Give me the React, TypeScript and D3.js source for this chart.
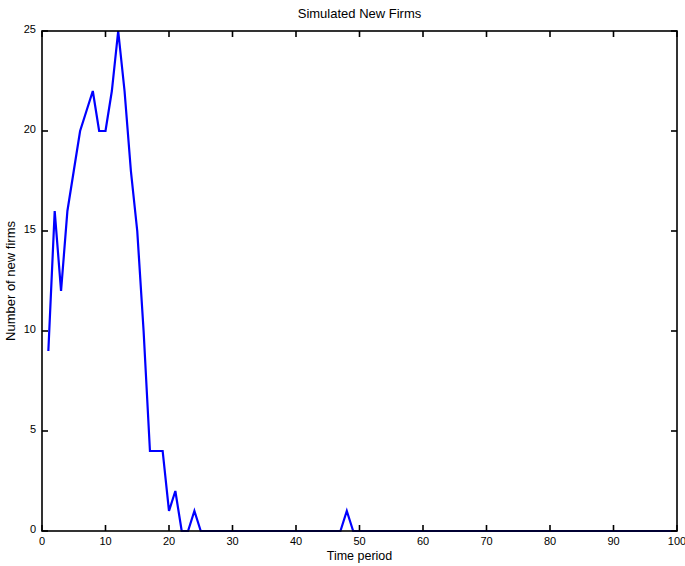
import React from "react";
import * as d3 from "d3";

// Simulated count of new firms per time period
const periods: number[] = d3.range(1, 101);
const newFirms: number[] = [
  9, 16, 12, 16, 18, 20, 21, 22, 20, 20,
  22, 25, 22, 18, 15, 10, 4, 4, 4, 1,
  2, 0, 0, 1, 0, 0, 0, 0, 0, 0,
  0, 0, 0, 0, 0, 0, 0, 0, 0, 0,
  0, 0, 0, 0, 0, 0, 0, 1, 0, 0,
  0, 0, 0, 0, 0, 0, 0, 0, 0, 0,
  0, 0, 0, 0, 0, 0, 0, 0, 0, 0,
  0, 0, 0, 0, 0, 0, 0, 0, 0, 0,
  0, 0, 0, 0, 0, 0, 0, 0, 0, 0,
  0, 0, 0, 0, 0, 0, 0, 0, 0, 0,
];
const xTicks: number[] = [0, 10, 20, 30, 40, 50, 60, 70, 80, 90, 100];
const yTicks: number[] = [0, 5, 10, 15, 20, 25];

const titleText = "Simulated New Firms";
const xLabelText = "Time period";
const yLabelText = "Number of new firms";

const W = 685;
const H = 566;
const plot = { left: 42, right: 677, top: 31, bottom: 531 };
const tickLen = 6;
const font = "'Liberation Sans', Arial, sans-serif";

export default function App() {
  const x = d3.scaleLinear().domain([0, 100]).range([plot.left, plot.right]);
  const y = d3.scaleLinear().domain([0, 25]).range([plot.bottom, plot.top]);

  const line = d3
    .line<number>()
    .x((_, i) => x(periods[i]))
    .y((d) => y(d));

  return (
    <svg
      width={W}
      height={H}
      style={{ position: "absolute", left: 0, top: 0, background: "#fff" }}
      fontFamily={font}
    >
      <rect x={0} y={0} width={W} height={H} fill="#fff" />

      {/* series */}
      <path d={line(newFirms) ?? ""} fill="none" stroke="#0000ff" strokeWidth={2.2} strokeLinejoin="miter" />

      {/* box */}
      <rect
        x={plot.left}
        y={plot.top}
        width={plot.right - plot.left}
        height={plot.bottom - plot.top}
        fill="none"
        stroke="#000"
        strokeWidth={1.6}
      />

      {/* x ticks, bottom and top, pointing inward */}
      {xTicks.map((t) => (
        <g key={"xt" + t}>
          <line x1={x(t)} x2={x(t)} y1={plot.bottom} y2={plot.bottom - tickLen} stroke="#000" strokeWidth={1.6} />
          <line x1={x(t)} x2={x(t)} y1={plot.top} y2={plot.top + tickLen} stroke="#000" strokeWidth={1.6} />
          <text x={x(t)} y={545} textAnchor="middle" fontSize={11} fill="#000">
            {t}
          </text>
        </g>
      ))}

      {/* y ticks, left and right, pointing inward */}
      {yTicks.map((t) => (
        <g key={"yt" + t}>
          <line x1={plot.left} x2={plot.left + tickLen} y1={y(t)} y2={y(t)} stroke="#000" strokeWidth={1.6} />
          <line x1={plot.right} x2={plot.right - tickLen} y1={y(t)} y2={y(t)} stroke="#000" strokeWidth={1.6} />
          <text x={36} y={y(t) + 2} textAnchor="end" fontSize={11} fill="#000">
            {t}
          </text>
        </g>
      ))}

      {/* title and axis labels */}
      <text x={(plot.left + plot.right) / 2} y={18} textAnchor="middle" fontSize={13} fill="#000">
        {titleText}
      </text>
      <text x={(plot.left + plot.right) / 2} y={560} textAnchor="middle" fontSize={12.5} fill="#000">
        {xLabelText}
      </text>
      <text
        transform={`translate(15, ${(plot.top + plot.bottom) / 2}) rotate(-90)`}
        textAnchor="middle"
        fontSize={13}
        fill="#000"
      >
        {yLabelText}
      </text>
    </svg>
  );
}
